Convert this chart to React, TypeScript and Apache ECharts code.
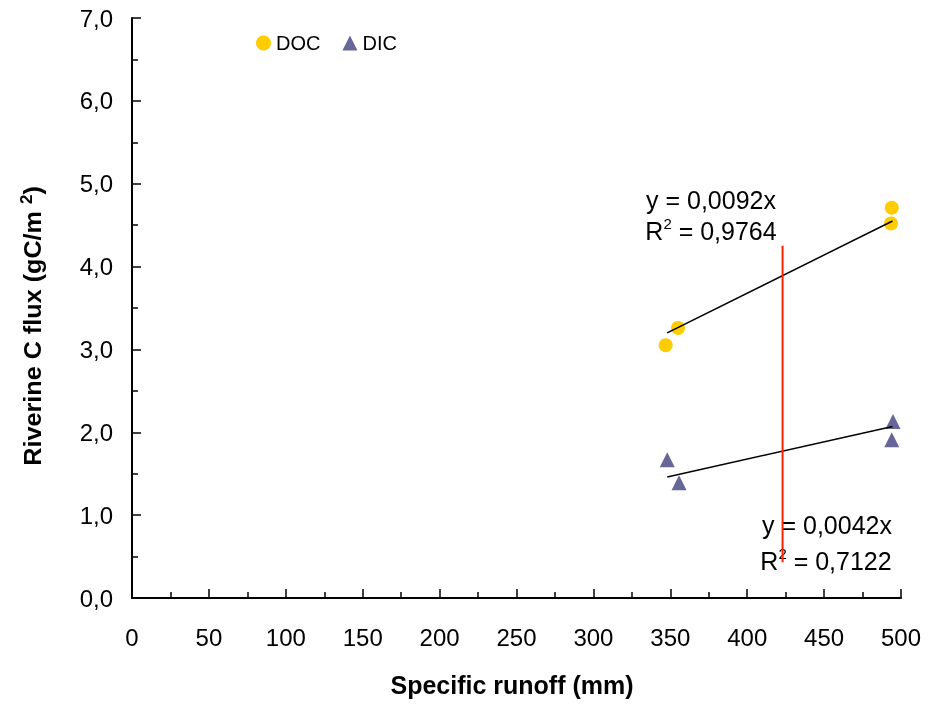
import React, { useEffect, useRef } from "react";
import * as echarts from "echarts";

const docPoints: [number, number][] = [
  [347, 3.05],
  [355, 3.26],
  [494, 4.71],
  [493.5, 4.52],
];
const dicPoints: [number, number][] = [
  [348, 1.67],
  [355.7, 1.39],
  [494.8, 2.13],
  [494, 1.91],
];
const docTrend: [number, number][] = [
  [348, 3.2],
  [494.5, 4.55],
];
const dicTrend: [number, number][] = [
  [348, 1.46],
  [494.5, 2.07],
];
const redLine: [number, number][] = [
  [423, 4.25],
  [423, 0.43],
];
const docEq = ["y = 0,0092x", "0,9764"];
const dicEq = ["y = 0,0042x", "0,7122"];

const FONT = "'Liberation Sans', Arial, sans-serif";

export default function App() {
  const ref = useRef<HTMLDivElement>(null);
  useEffect(() => {
    if (!ref.current) return;
    const chart = echarts.init(ref.current, undefined, { renderer: "svg" });
    const supRich = {
      a: { fontSize: 25, lineHeight: 30, fontFamily: FONT, color: "#000" },
      s: { fontSize: 15, lineHeight: 15, fontFamily: FONT, color: "#000", verticalAlign: "top" },
    };
    chart.setOption({
      animation: false,
      textStyle: { fontFamily: FONT },
      grid: { left: 132, right: 35, top: 18, bottom: 106 },
      legend: {
        left: 251,
        top: 28,
        itemWidth: 15,
        itemHeight: 15,
        itemGap: 22,
        textStyle: { fontSize: 20, color: "#000", fontFamily: FONT },
        data: ["DOC", "DIC"],
      },
      xAxis: {
        type: "value",
        min: 0,
        max: 500,
        interval: 50,
        axisLine: { show: true, lineStyle: { color: "#000", width: 2 } },
        axisTick: { show: true, inside: true, length: 9, lineStyle: { color: "#000", width: 1.5 } },
        minorTick: { show: true, splitNumber: 2, length: 6, lineStyle: { color: "#000", width: 1.5 } },
        splitLine: { show: false },
        axisLabel: { fontSize: 24, color: "#000", margin: 27, fontFamily: FONT },
      },
      yAxis: {
        type: "value",
        min: 0,
        max: 7,
        interval: 1,
        axisLine: { show: true, lineStyle: { color: "#000", width: 2 } },
        axisTick: { show: true, inside: true, length: 9, lineStyle: { color: "#000", width: 1.5 } },
        minorTick: { show: true, splitNumber: 2, length: 6, lineStyle: { color: "#000", width: 1.5 } },
        splitLine: { show: false },
        axisLabel: {
          fontSize: 24,
          color: "#000",
          margin: 19,
          fontFamily: FONT,
          formatter: (v: number) => v.toFixed(1).replace(".", ","),
        },
      },
      series: [
        {
          name: "DOC",
          type: "scatter",
          symbol: "circle",
          symbolSize: 14,
          itemStyle: { color: "#ffcc00", opacity: 1 },
          data: docPoints,
          z: 3,
        },
        {
          name: "DIC",
          type: "scatter",
          symbol: "triangle",
          symbolSize: 15,
          itemStyle: { color: "#666699", opacity: 1 },
          data: dicPoints,
          z: 3,
        },
        {
          type: "line",
          data: docTrend,
          symbol: "none",
          lineStyle: { color: "#000", width: 1.5 },
          z: 4,
        },
        {
          type: "line",
          data: dicTrend,
          symbol: "none",
          lineStyle: { color: "#000", width: 1.5 },
          z: 4,
        },
        {
          type: "line",
          data: redLine,
          symbol: "none",
          lineStyle: { color: "#ff2200", width: 2 },
          z: 5,
        },
      ],
      graphic: [
        {
          type: "text",
          x: 33,
          y: 326,
          rotation: Math.PI / 2,
          scaleX: 1.05,
          style: {
            text: "{a|Riverine C flux (gC/m }{s|2}{a|)}",
            align: "center",
            verticalAlign: "middle",
            rich: {
              a: { fontSize: 24, lineHeight: 30, fontWeight: "bold", fontFamily: FONT, color: "#000" },
              s: { fontSize: 16, lineHeight: 16, fontWeight: "bold", fontFamily: FONT, color: "#000", verticalAlign: "top" },
            },
          },
        },
        {
          type: "text",
          x: 512,
          y: 685,
          style: {
            text: "Specific runoff (mm)",
            align: "center",
            verticalAlign: "middle",
            fontSize: 25,
            fontWeight: "bold",
            fontFamily: FONT,
            fill: "#000",
          },
        },
        {
          type: "text",
          x: 711,
          y: 200,
          style: { text: docEq[0], align: "center", verticalAlign: "middle", fontSize: 25, fontFamily: FONT, fill: "#000" },
        },
        {
          type: "text",
          x: 711,
          y: 231,
          style: {
            text: "{a|R}{s|2}{a| = " + docEq[1] + "}",
            align: "center",
            verticalAlign: "middle",
            rich: supRich,
          },
        },
        {
          type: "text",
          x: 827,
          y: 525,
          style: { text: dicEq[0], align: "center", verticalAlign: "middle", fontSize: 25, fontFamily: FONT, fill: "#000" },
        },
        {
          type: "text",
          x: 826,
          y: 561,
          style: {
            text: "{a|R}{s|2}{a| = " + dicEq[1] + "}",
            align: "center",
            verticalAlign: "middle",
            rich: supRich,
          },
        },
      ],
    });
    return () => chart.dispose();
  }, []);
  return <div ref={ref} style={{ position: "fixed", left: 0, top: 0, width: 936, height: 704 }} />;
}
